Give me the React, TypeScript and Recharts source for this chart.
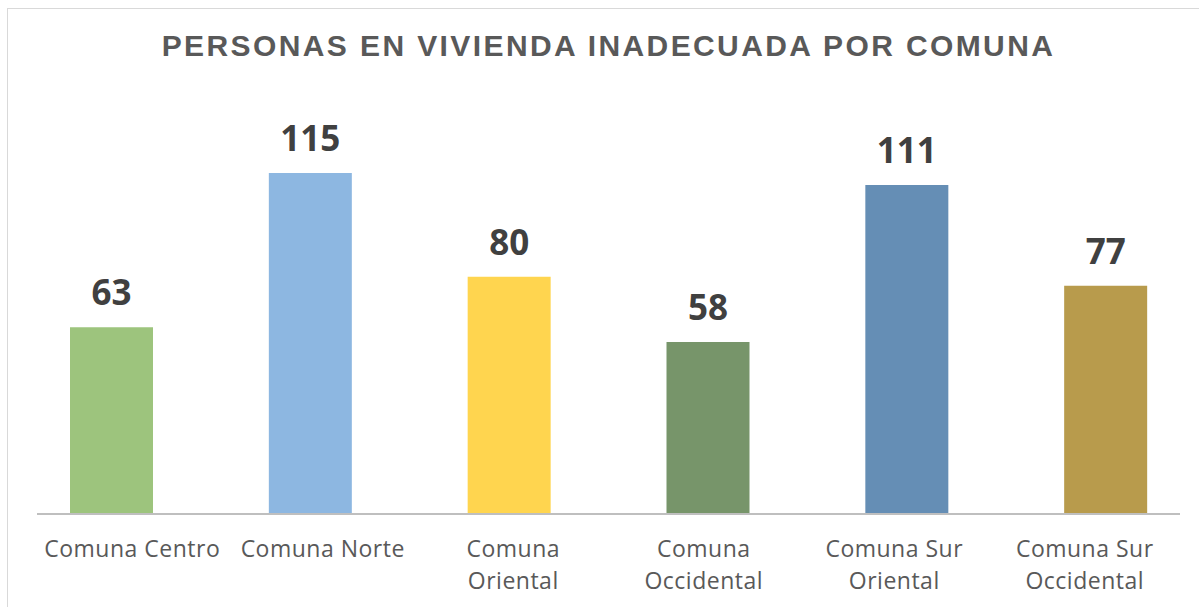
import { BarChart, Bar, XAxis, YAxis, Cell, LabelList } from "recharts"

const comunas = [
  "Comuna Centro",
  "Comuna Norte",
  "Comuna Oriental",
  "Comuna Occidental",
  "Comuna Sur Oriental",
  "Comuna Sur Occidental",
]
const personas = [63, 115, 80, 58, 111, 77]
const colores = ["#9DC47D", "#8DB7E1", "#FFD54F", "#77956A", "#658EB5", "#B89B4C"]

const data = comunas.map((name, i) => ({ name, value: personas[i] }))

// wrap long category names the way the original does
function splitLabel(label: string) {
  const words = label.split(" ")
  const lines: string[] = []
  let cur = ""
  for (const w of words) {
    const next = cur ? cur + " " + w : w
    if (next.length > 13 && cur) {
      lines.push(cur)
      cur = w
    } else {
      cur = next
    }
  }
  if (cur) lines.push(cur)
  return lines
}

function CategoryTick(props: any) {
  const { x, y, payload } = props
  const lines = splitLabel(payload.value)
  return (
    <text
      x={x}
      y={y + 43}
      textAnchor="middle"
      fill="#595959"
      fontFamily="'Open Sans', sans-serif"
      fontSize={23}
      letterSpacing={0.5}
    >
      {lines.map((l, i) => (
        <tspan key={i} x={x} dy={i === 0 ? 0 : 32}>
          {l}
        </tspan>
      ))}
    </text>
  )
}

export default function App() {
  return (
    <div style={{ position: "absolute", left: 0, top: 0, width: 1199, height: 607, overflow: "hidden", background: "#fff" }}>
      <div
        style={{
          position: "absolute",
          left: 7,
          top: 8,
          width: 1220,
          height: 640,
          border: "1.5px solid #d9d9d9",
        }}
      />
      <div
        style={{
          position: "absolute",
          left: 0,
          top: 28,
          width: 1217,
          textAlign: "center",
          fontFamily: "'Liberation Sans', Arial, sans-serif",
          fontWeight: 700,
          fontSize: 30,
          letterSpacing: 2.4,
          color: "#595959",
          lineHeight: "36px",
        }}
      >
        PERSONAS EN VIVIENDA INADECUADA POR COMUNA
      </div>
      <div style={{ position: "absolute", left: 0, top: 0 }}>
        <BarChart width={1199} height={607} data={data} margin={{ top: 99, right: 19, bottom: 63, left: 37 }}>
          <XAxis
            xAxisId="labels"
            dataKey="name"
            axisLine={{ stroke: "#bfbfbf", strokeWidth: 2 }}
            tickLine={false}
            tickSize={0}
            tickMargin={0}
            interval={0}
            tick={<CategoryTick />}
          />
          <XAxis xAxisId="bars" dataKey="name" hide height={0} padding={{ left: -25, right: -25 }} />
          <YAxis hide domain={[0, 140]} />
          <Bar dataKey="value" xAxisId="bars" barSize={83} isAnimationActive={false}>
            {data.map((d, i) => (
              <Cell key={d.name} fill={colores[i]} />
            ))}
            <LabelList
              dataKey="value"
              position="top"
              offset={22}
              fill="#404040"
              fontFamily="'Open Sans', sans-serif"
              fontWeight={700}
              fontSize={35}
            />
          </Bar>
        </BarChart>
      </div>
    </div>
  )
}
